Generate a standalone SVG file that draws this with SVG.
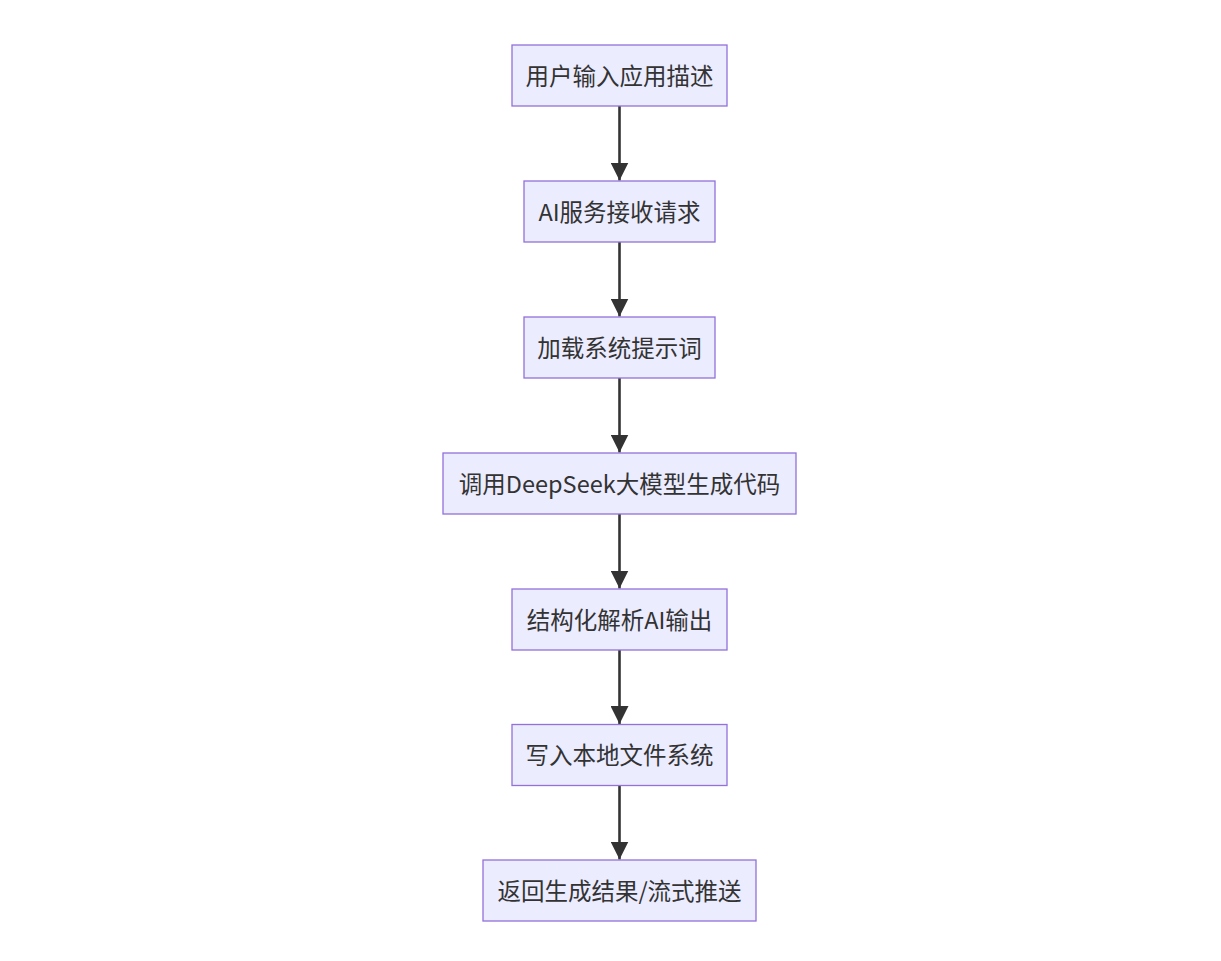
<svg xmlns="http://www.w3.org/2000/svg" width="1221" height="961" viewBox="0 0 1221 961">
<defs>
<style>
.node rect{fill:#ECECFF;stroke:#9370DB;stroke-width:1.3}
.node text{font-family:"Noto Sans CJK SC","Noto Sans",sans-serif;font-size:23.5px;fill:#333;text-anchor:middle;dominant-baseline:central}
.edge{stroke:#333;stroke-width:2.6;fill:none}
</style>
<marker id="arr" viewBox="0 0 10 10" refX="10" refY="5" markerUnits="userSpaceOnUse" markerWidth="18" markerHeight="18" orient="auto">
<path d="M0,0 L10,5 L0,10 z" fill="#333"/>
</marker>
</defs>
<rect width="1221" height="961" fill="#fff"/>
<g id="connectors">
<line class="edge" x1="619.5" y1="106" x2="619.5" y2="180.5" marker-end="url(#arr)"/>
<line class="edge" x1="619.5" y1="242" x2="619.5" y2="316.5" marker-end="url(#arr)"/>
<line class="edge" x1="619.5" y1="378" x2="619.5" y2="452.5" marker-end="url(#arr)"/>
<line class="edge" x1="619.5" y1="514" x2="619.5" y2="588.5" marker-end="url(#arr)"/>
<line class="edge" x1="619.5" y1="650" x2="619.5" y2="724" marker-end="url(#arr)"/>
<line class="edge" x1="619.5" y1="785.5" x2="619.5" y2="859.5" marker-end="url(#arr)"/>
</g>
<g id="n1" class="node"><rect x="512" y="45" width="215" height="61"/><text x="619.5" y="74.5">用户输入应用描述</text></g>
<g id="n2" class="node"><rect x="524" y="181" width="191" height="61"/><text x="619.5" y="210.5">AI服务接收请求</text></g>
<g id="n3" class="node"><rect x="524" y="317" width="191" height="61"/><text x="619.5" y="346.5">加载系统提示词</text></g>
<g id="n4" class="node"><rect x="443" y="453" width="353" height="61"/><text x="619.5" y="482.5">调用DeepSeek大模型生成代码</text></g>
<g id="n5" class="node"><rect x="512" y="589" width="215" height="61"/><text x="619.5" y="618.5">结构化解析AI输出</text></g>
<g id="n6" class="node"><rect x="512" y="724.5" width="215" height="61"/><text x="619.5" y="754">写入本地文件系统</text></g>
<g id="n7" class="node"><rect x="483" y="860" width="273" height="61"/><text x="619.5" y="889.5">返回生成结果/流式推送</text></g>
</svg>
